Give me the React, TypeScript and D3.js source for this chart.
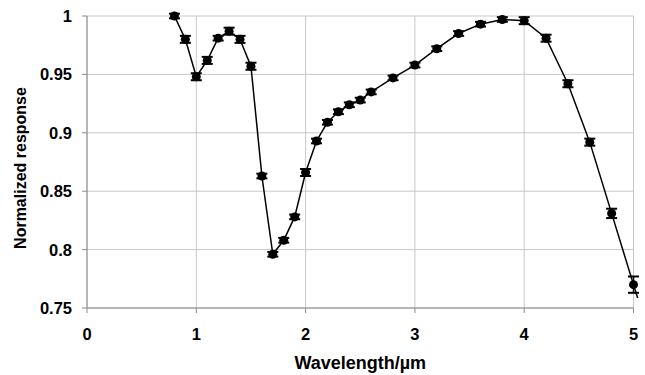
import React from "react";
import * as d3 from "d3";

const wavelengths = [0.8, 0.9, 1.0, 1.1, 1.2, 1.3, 1.4, 1.5, 1.6, 1.7, 1.8, 1.9, 2.0, 2.1, 2.2, 2.3, 2.4, 2.5, 2.6, 2.8, 3.0, 3.2, 3.4, 3.6, 3.8, 4.0, 4.2, 4.4, 4.6, 4.8, 5.0];
const responses = [1.0, 0.98, 0.948, 0.962, 0.981, 0.987, 0.98, 0.957, 0.863, 0.796, 0.808, 0.828, 0.866, 0.893, 0.909, 0.918, 0.924, 0.928, 0.935, 0.947, 0.958, 0.972, 0.985, 0.993, 0.997, 0.996, 0.981, 0.942, 0.892, 0.831, 0.77];
const errors = [0.002, 0.003, 0.003, 0.003, 0.002, 0.003, 0.003, 0.003, 0.002, 0.002, 0.002, 0.002, 0.003, 0.002, 0.002, 0.002, 0.002, 0.002, 0.002, 0.002, 0.002, 0.002, 0.002, 0.002, 0.002, 0.003, 0.003, 0.003, 0.003, 0.004, 0.007];
// continuation beyond the axis range (clipped)
const tailWavelength = [5.2];
const tailResponse = [0.71];

const xTicks = [0, 1, 2, 3, 4, 5];
const yTicks = [0.75, 0.8, 0.85, 0.9, 0.95, 1];

export default function App() {
  const W = 645, H = 375;
  const left = 87, right = 633.5, top = 16, bottom = 308;
  const x = d3.scaleLinear().domain([0, 5]).range([left, right]);
  const y = d3.scaleLinear().domain([0.75, 1]).range([bottom, top]);
  const pts = wavelengths.map((w, i) => [w, responses[i]] as [number, number]);
  const linePts = pts.concat(tailWavelength.map((w, i) => [w, tailResponse[i]] as [number, number]));
  const line = d3.line<[number, number]>().x(d => x(d[0])).y(d => y(d[1]));
  const font = "'Liberation Sans', Arial, sans-serif";
  return (
    <svg width={W} height={H} style={{ position: "absolute", left: 0, top: 0, background: "#fff" }}>
      <defs>
        <clipPath id="clip">
          <rect x={left} y={0} width={640 - left} height={bottom - 10} />
        </clipPath>
      </defs>
      {xTicks.map(t => (
        <line key={"gx" + t} x1={x(t)} x2={x(t)} y1={top} y2={bottom} stroke="#c8c8c8" strokeWidth={1} />
      ))}
      {yTicks.map(t => (
        <line key={"gy" + t} x1={left} x2={right} y1={y(t)} y2={y(t)} stroke="#c8c8c8" strokeWidth={1} />
      ))}
      <line x1={left} x2={left} y1={top} y2={bottom} stroke="#8a8a8a" strokeWidth={1} />
      <line x1={left} x2={right} y1={bottom} y2={bottom} stroke="#8a8a8a" strokeWidth={1} />
      {xTicks.map(t => (
        <line key={"tx" + t} x1={x(t)} x2={x(t)} y1={bottom} y2={bottom + 5} stroke="#8a8a8a" />
      ))}
      {yTicks.map(t => (
        <line key={"ty" + t} x1={left - 5} x2={left} y1={y(t)} y2={y(t)} stroke="#8a8a8a" />
      ))}
      {xTicks.map(t => (
        <text key={"lx" + t} x={x(t)} y={bottom + 32} textAnchor="middle" fontFamily={font} fontWeight="bold" fontSize={16.5} fill="#000">{t}</text>
      ))}
      {yTicks.map(t => (
        <text key={"ly" + t} x={72} y={y(t) + 6} textAnchor="end" fontFamily={font} fontWeight="bold" fontSize={16.5} fill="#000">{String(t)}</text>
      ))}
      <path d={line(linePts) || ""} fill="none" stroke="#000" strokeWidth={1.5} clipPath="url(#clip)" />
      {pts.map((p, i) => {
        const cx = x(p[0]);
        const y1 = y(p[1] + errors[i]);
        const y2 = y(p[1] - errors[i]);
        return (
          <g key={"e" + i}>
            <line x1={cx} x2={cx} y1={y1} y2={y2} stroke="#000" strokeWidth={1.5} />
            <line x1={cx - 5.5} x2={cx + 5.5} y1={y1} y2={y1} stroke="#000" strokeWidth={2} />
            <line x1={cx - 5.5} x2={cx + 5.5} y1={y2} y2={y2} stroke="#000" strokeWidth={2} />
            <circle cx={cx} cy={y(p[1])} r={4.5} fill="#000" />
          </g>
        );
      })}
      <text x={(left + right) / 2} y={369} textAnchor="middle" fontFamily={font} fontWeight="bold" fontSize={18} fill="#000">Wavelength/µm</text>
      <text transform={`translate(26,168) rotate(-90)`} textAnchor="middle" fontFamily={font} fontWeight="bold" fontSize={16} fill="#000">Normalized response</text>
    </svg>
  );
}
